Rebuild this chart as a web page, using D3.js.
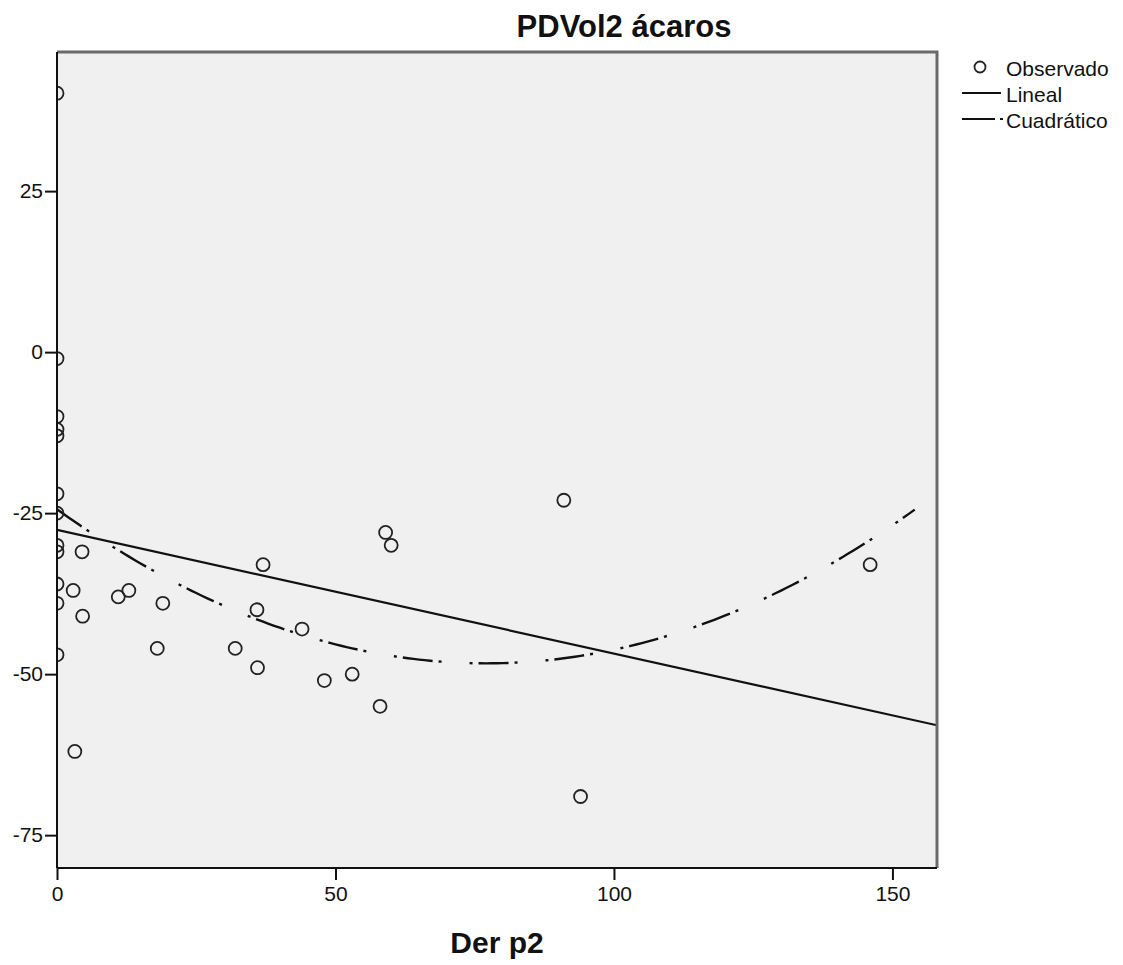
<!DOCTYPE html>
<html>
<head>
<meta charset="utf-8">
<script src="https://cdn.jsdelivr.net/npm/d3@7"></script>
<style>
  body { margin: 0; background: #fff; }
  text { font-family: "Liberation Sans", Arial, sans-serif; fill: #111; }
</style>
</head>
<body>
<div class="chart"></div>
<script>
// observed points (Der p2, PDVol2 ácaros)
const derP2 = [0, 0, 0, 0, 0, 0, 0, 0, 0, 0, 0, 0,
  2.9, 4.5, 4.6, 3.2, 11, 12.9, 18, 19, 32, 35.9, 36, 37, 44, 48, 53, 58, 59, 60, 91, 94, 146];
const pdVol2 = [40.2, -1, -10, -12, -13, -22, -25, -30, -31, -36, -39, -47,
  -37, -31, -41, -62, -38, -37, -46, -39, -46, -40, -49, -33, -43, -51, -50, -55, -28, -30, -23, -69, -33];

// fitted coefficients
const linealCoef = [-27.6, -0.192];
const cuadCoef = [-24.4, -0.621, 0.00403];

const xTicks = [0, 50, 100, 150];
const yTicks = [25, 0, -25, -50, -75];
const legendItems = ["Observado", "Lineal", "Cuadrático"];

const margin = { top: 52, right: 186, bottom: 97, left: 57 };
const width = 1123 - margin.left - margin.right;
const height = 965 - margin.top - margin.bottom;

const svg = d3.select('.chart')
  .append('svg')
  .attr('width', 1123)
  .attr('height', 965);

const g = svg.append('g')
  .attr('transform', `translate(${margin.left}, ${margin.top})`);

const xScale = d3.scaleLinear().domain([0, 158]).range([0, width]);
const yScale = d3.scaleLinear().domain([-80.1, 46.6]).range([height, 0]);

// plot background
g.append('rect')
  .attr('width', width)
  .attr('height', height)
  .attr('fill', '#f0f0f0');

svg.append('defs').append('clipPath').attr('id', 'clip')
  .append('rect').attr('width', width).attr('height', height);

const plot = g.append('g').attr('clip-path', 'url(#clip)');

// fit lines
const lineGen = d3.line().x(d => xScale(d[0])).y(d => yScale(d[1]));

const linPts = [0, 158].map(x => [x, linealCoef[0] + linealCoef[1] * x]);
plot.append('path')
  .attr('d', lineGen(linPts))
  .attr('fill', 'none')
  .attr('stroke', '#111')
  .attr('stroke-width', 2.2);

const cuadPts = d3.range(0, 154.6, 1).map(x => [x, cuadCoef[0] + cuadCoef[1] * x + cuadCoef[2] * x * x]);
plot.append('path')
  .attr('d', lineGen(cuadPts))
  .attr('fill', 'none')
  .attr('stroke', '#111')
  .attr('stroke-width', 2.4)
  .attr('stroke-dasharray', '30 6 3 28 3 6');

// observed circles
plot.selectAll('circle')
  .data(derP2.map((x, i) => [x, pdVol2[i]]))
  .enter()
  .append('circle')
  .attr('cx', d => xScale(d[0]))
  .attr('cy', d => yScale(d[1]))
  .attr('r', 6.5)
  .attr('fill', 'none')
  .attr('stroke', '#222')
  .attr('stroke-width', 1.8);

// frame: top and right grey, left and bottom black
g.append('path')
  .attr('d', `M0,0H${width}V${height}`)
  .attr('fill', 'none')
  .attr('stroke', '#6a6a6a')
  .attr('stroke-width', 3);

const fmt = d => String(d); // plain hyphen, like the original
const yAxis = d3.axisLeft(yScale).tickValues(yTicks).tickSize(12).tickPadding(2).tickFormat(fmt);
const xAxis = d3.axisBottom(xScale).tickValues(xTicks).tickSize(12).tickPadding(6).tickFormat(fmt);

const yG = g.append('g').call(yAxis);
const xG = g.append('g').attr('transform', `translate(0, ${height})`).call(xAxis);

[yG, xG].forEach(a => {
  a.select('.domain').attr('stroke', '#111').attr('stroke-width', 2);
  a.selectAll('.tick line').attr('stroke', '#111').attr('stroke-width', 2);
  a.selectAll('text')
    .style('font-family', '"Liberation Sans", Arial, sans-serif')
    .style('font-size', '21px')
    .attr('fill', '#111');
});
yG.select('.domain').attr('d', `M0,${height}V0`);
xG.select('.domain').attr('d', `M0,0H${width}`);

// titles
svg.append('text')
  .attr('x', 624)
  .attr('y', 37)
  .attr('text-anchor', 'middle')
  .style('font-size', '31px')
  .style('font-weight', 'bold')
  .text('PDVol2 ácaros');

svg.append('text')
  .attr('x', margin.left + width / 2)
  .attr('y', 953)
  .attr('text-anchor', 'middle')
  .style('font-size', '30px')
  .style('font-weight', 'bold')
  .text('Der p2');

// legend
const legend = svg.append('g').attr('transform', 'translate(962, 67)');
const rowH = 26;

legend.selectAll('text')
  .data(legendItems)
  .enter()
  .append('text')
  .attr('x', 44)
  .attr('y', (d, i) => i * rowH + 9)
  .style('font-size', '21px')
  .text(d => d);

legend.append('circle')
  .attr('cx', 18)
  .attr('cy', 0)
  .attr('r', 5.5)
  .attr('fill', 'none')
  .attr('stroke', '#222')
  .attr('stroke-width', 1.8);

legend.append('line')
  .attr('x1', 0).attr('x2', 39)
  .attr('y1', rowH).attr('y2', rowH)
  .attr('stroke', '#111')
  .attr('stroke-width', 2);

legend.append('line')
  .attr('x1', 0).attr('x2', 42)
  .attr('y1', rowH * 2).attr('y2', rowH * 2)
  .attr('stroke', '#111')
  .attr('stroke-width', 2)
  .attr('stroke-dasharray', '33 5 3 30');
</script>
</body>
</html>
